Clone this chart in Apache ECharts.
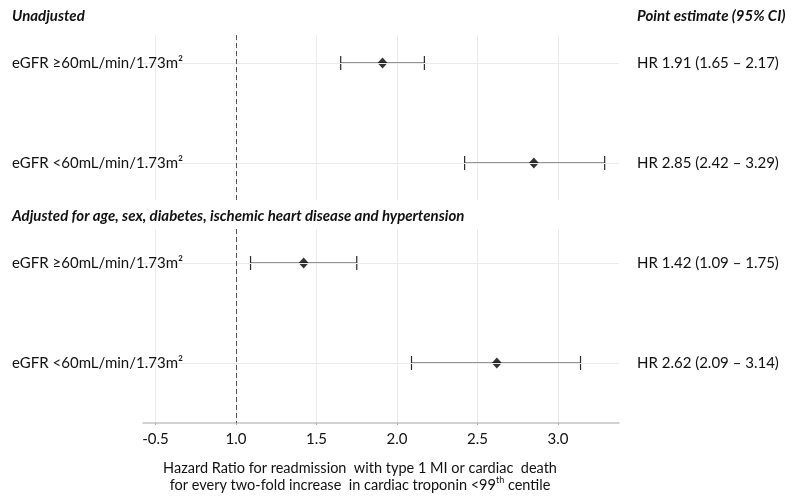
<!DOCTYPE html>
<html><head><meta charset="utf-8">
<script src="https://cdn.jsdelivr.net/npm/echarts@6/dist/echarts.min.js"></script>
<style>html,body{margin:0;padding:0;background:#fff}#c{width:800px;height:504px}</style>
</head><body><div id="c"></div>
<script>
const groupTitles = ['Unadjusted', 'Adjusted for age, sex, diabetes, ischemic heart disease and hypertension'];
const rowLabels = ['eGFR \u226560mL/min/1.73m\u00b2', 'eGFR <60mL/min/1.73m\u00b2'];
const unadjEst = [1.91, 2.85];
const unadjLo = [1.65, 2.42];
const unadjHi = [2.17, 3.29];
const adjEst = [1.42, 2.62];
const adjLo = [1.09, 2.09];
const adjHi = [1.75, 3.14];
const tickValues = [0.5, 1.0, 1.5, 2.0, 2.5, 3.0];
const tickLabels = ['-0.5', '1.0', '1.5', '2.0', '2.5', '3.0'];
const refValue = 1.0;
const rightHeader = 'Point estimate (95% CI)';
const axisTitle1 = 'Hazard Ratio for readmission  with type 1 MI or cardiac  death';
const axisTitle2a = 'for every two-fold increase  in cardiac troponin <99';
const axisTitle2sup = 'th';
const axisTitle2b = ' centile';

const FONT = 'Lato';
const chart = echarts.init(document.getElementById('c'), null, {renderer: 'canvas'});

function fmt(v){ return v.toFixed(2); }
function hrText(e, l, h){ return 'HR ' + fmt(e) + ' (' + fmt(l) + ' \u2013 ' + fmt(h) + ')'; }

function errorBarSeries(gi, est, lo, hi){
  return {
    type: 'custom', xAxisIndex: gi, yAxisIndex: gi, z: 3,
    data: est.map((e, i) => [lo[i], hi[i], e, i]),
    renderItem: function(params, api){
      const a = api.coord([api.value(0), api.value(3)]);
      const b = api.coord([api.value(1), api.value(3)]);
      const cap = 7;
      const st = {stroke: '#2a2a2a', lineWidth: 1.2};
      return {type: 'group', children: [
        {type: 'line', shape: {x1: a[0], y1: a[1], x2: b[0], y2: b[1]}, style: st},
        {type: 'line', shape: {x1: a[0], y1: a[1]-cap, x2: a[0], y2: a[1]+cap}, style: st},
        {type: 'line', shape: {x1: b[0], y1: b[1]-cap, x2: b[0], y2: b[1]+cap}, style: st}
      ]};
    }
  };
}

function pointSeries(gi, est){
  return {
    type: 'scatter', xAxisIndex: gi, yAxisIndex: gi, z: 4,
    symbol: 'diamond', symbolSize: [10, 11],
    itemStyle: {color: '#000'},
    data: est.map((e, i) => [e, i])
  };
}

function textSeries(gi, est, lo, hi){
  return {
    type: 'custom', xAxisIndex: gi, yAxisIndex: gi, z: 5, clip: false,
    data: est.map((e, i) => [e, i, lo[i], hi[i]]),
    renderItem: function(params, api){
      const i = api.value(1);
      const p = api.coord([api.value(0), i]);
      return {type: 'group', children: [
        {type: 'text', x: 12, y: p[1], style: {text: rowLabels[i], fill: '#111', font: '15px ' + FONT, verticalAlign: 'middle', align: 'left'}},
        {type: 'text', x: 637, y: p[1], style: {text: hrText(api.value(0), api.value(2), api.value(3)), fill: '#111', font: '15px ' + FONT, verticalAlign: 'middle', align: 'left'}}
      ]};
    }
  };
}

function guideSeries(gi){
  return {
    type: 'line', xAxisIndex: gi, yAxisIndex: gi, z: 1, data: [], silent: true,
    markLine: {
      silent: true, symbol: 'none', label: {show: false}, animation: false,
      data: [
        {yAxis: 0, lineStyle: {color: '#ebebeb', width: 1, type: 'solid'}},
        {yAxis: 1, lineStyle: {color: '#ebebeb', width: 1, type: 'solid'}},
        {xAxis: refValue, lineStyle: {color: '#555', width: 1, type: [5, 3]}}
      ]
    }
  };
}

function xAxisFor(gi, showAxis){
  return {
    type: 'value', gridIndex: gi, min: 0.422, max: 3.379, splitNumber: 6, position: 'bottom',
    axisLine: {show: showAxis, onZero: false, lineStyle: {color: '#c4c4c4', width: 1.5}},
    axisTick: {show: showAxis, length: 2, lineStyle: {color: '#aaa'}},
    axisLabel: {
      show: showAxis, showMinLabel: false, showMaxLabel: false, margin: 9,
      color: '#111', fontFamily: FONT, fontSize: 15,
      formatter: function(v){ const k = tickValues.findIndex(t => Math.abs(t - v) < 1e-6); return k >= 0 ? tickLabels[k] : ''; }
    },
    splitLine: {show: true, showMinLine: false, showMaxLine: false, lineStyle: {color: '#ebebeb', width: 1}}
  };
}

const option = {
  animation: false,
  backgroundColor: '#fff',
  grid: [
    {left: 143, right: 181, top: 35, height: 165},
    {left: 143, right: 181, top: 229, height: 194}
  ],
  xAxis: [xAxisFor(0, false), xAxisFor(1, true)],
  yAxis: [
    {type: 'value', gridIndex: 0, inverse: true, min: -0.28, max: 1.37, show: false},
    {type: 'value', gridIndex: 1, inverse: true, min: -0.34, max: 1.60, show: false}
  ],
  graphic: [
    {type: 'text', left: 12, top: 9, style: {text: groupTitles[0], fill: '#111', font: 'italic bold 15px ' + FONT}},
    {type: 'text', left: 637, top: 9, style: {text: rightHeader, fill: '#111', font: 'italic bold 15px ' + FONT}},
    {type: 'text', left: 12, top: 209, style: {text: groupTitles[1], fill: '#111', font: 'italic bold 15px ' + FONT}},
    {type: 'text', x: 360, y: 459, style: {
      text: '{n|' + axisTitle1 + '}\n{n|' + axisTitle2a + '}{sup|' + axisTitle2sup + '}{n|' + axisTitle2b + '}',
      align: 'center', verticalAlign: 'top', fill: '#111',
      rich: {
        n: {fontFamily: FONT, fontSize: 14.5, lineHeight: 17, fill: '#111', verticalAlign: 'bottom'},
        sup: {fontFamily: FONT, fontSize: 9, lineHeight: 17, fill: '#111', verticalAlign: 'top'}
      }
    }}
  ],
  series: [
    guideSeries(0), guideSeries(1),
    errorBarSeries(0, unadjEst, unadjLo, unadjHi),
    errorBarSeries(1, adjEst, adjLo, adjHi),
    pointSeries(0, unadjEst), pointSeries(1, adjEst),
    textSeries(0, unadjEst, unadjLo, unadjHi),
    textSeries(1, adjEst, adjLo, adjHi)
  ]
};
chart.setOption(option);
</script></body></html>
